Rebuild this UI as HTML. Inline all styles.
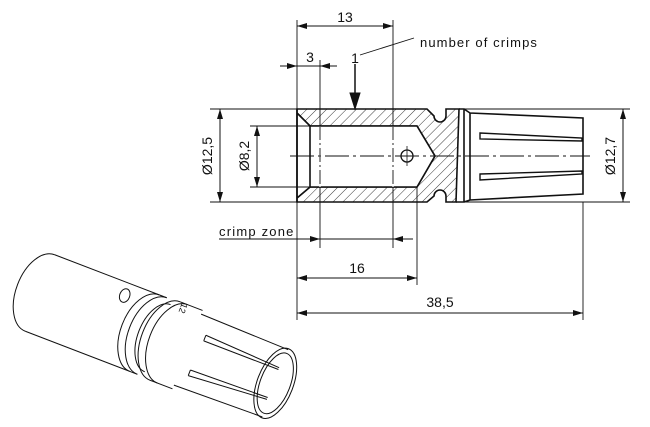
<!DOCTYPE html>
<html><head><meta charset="utf-8"><style>
html,body{margin:0;padding:0;background:#fff;}
svg{display:block;}
text{font-family:"Liberation Sans",sans-serif;fill:#111;}
</style></head><body>
<svg width="650" height="427" viewBox="0 0 650 427" xmlns="http://www.w3.org/2000/svg">
<defs>
<pattern id="h" width="7" height="7" patternUnits="userSpaceOnUse" patternTransform="rotate(45)">
<line x1="0" y1="0" x2="0" y2="7" stroke="#222" stroke-width="0.9"/>
</pattern>
<marker id="a" viewBox="0 0 10 6" refX="10" refY="3" markerWidth="10" markerHeight="6" orient="auto-start-reverse" markerUnits="userSpaceOnUse">
<path d="M0,0 L10,3 L0,6 Z" fill="#111"/>
</marker>
</defs>
<g stroke="#111" fill="none" stroke-width="1">
<path fill="url(#h)" fill-rule="evenodd" stroke-width="1.6" d="M297,109 L427,109 L434,116 A6,6 0 0 0 446,116 L446,109 L459,109 L456,202 L446,202 L446,196 A6,6 0 0 0 434,196 L427,202 L297,202 Z M297,113 L310,126 L417,126 L435,156 L417,187 L310,187 L297,198 Z"/>
<path fill="#fff" stroke="none" d="M298,114 L310,126 L417,126 L434,156 L417,187 L310,187 L298,197 Z"/>
<path stroke-width="1.6" d="M297,113 L310,126 L417,126 L435,156 L417,187 L310,187 L297,198 M310,126 L310,187 M297,109 L297,202"/>
<path stroke-width="1.6" d="M459,109 L464,109 L464,202 L456,202 M464,109 L470,113 L583,118 L583,194 L470,200 L464,202 M470,113 L470,200"/>
<path stroke-width="1.4" d="M480,133 L582,138 L582,141 L480,139 Z M480,174 L582,171 L582,174 L480,180 Z"/>
<circle cx="407" cy="156" r="6" stroke-width="1.3"/>
<path d="M290,156 L590,156" stroke-dasharray="24,4,3,4"/>
<path d="M407,146 L407,166" stroke-width="0.8"/>
<path d="M320,60 L320,248 M393,20 L393,248" stroke-width="0.9"/>
<path d="M320,126 L320,187 M393,126 L393,187" stroke="#fff" stroke-width="1.2"/>
<path d="M320,126 L320,187 M393,126 L393,187" stroke-dasharray="14,3,2,3" stroke-width="0.9"/>
<path d="M297,20 L297,320 M417,187 L417,285 M583,202 L583,320" stroke-width="0.9"/>
<path d="M210,109 L297,109 M210,202 L297,202 M250,126 L310,126 M250,187 L310,187 M465,109 L630,109 M465,202 L630,202" stroke-width="0.9"/>
<path d="M297,26 L393,26" marker-start="url(#a)" marker-end="url(#a)"/>
<path d="M280,66 L297,66" marker-end="url(#a)"/>
<path d="M337,66 L320,66" marker-end="url(#a)"/>
<path d="M297,66 L320,66"/>
<path d="M219,239 L320,239" marker-end="url(#a)"/>
<path d="M413,239 L393,239" marker-end="url(#a)"/>
<path d="M320,239 L393,239"/>
<path d="M297,278 L417,278" marker-start="url(#a)" marker-end="url(#a)"/>
<path d="M297,313 L583,313" marker-start="url(#a)" marker-end="url(#a)"/>
<path d="M220,109 L220,202" marker-start="url(#a)" marker-end="url(#a)"/>
<path d="M257,126 L257,187" marker-start="url(#a)" marker-end="url(#a)"/>
<path d="M623,109 L623,202" marker-start="url(#a)" marker-end="url(#a)"/>
<path d="M355,64 L355,94" stroke-width="1.5"/>
<path d="M350,93 L360,93 L355,109 Z" fill="#111"/>
<path d="M360,55 L414,38" stroke-width="0.9"/>
</g>
<g font-size="14">
<text x="345" y="22" text-anchor="middle">13</text>
<text x="310" y="62" text-anchor="middle">3</text>
<text x="355" y="63" text-anchor="middle">1</text>
<text x="420" y="47" font-family="Liberation Mono, monospace" font-size="13" letter-spacing="1.1">number of crimps</text>
<text x="219" y="236" font-family="Liberation Mono, monospace" font-size="13" letter-spacing="1.2">crimp zone</text>
<text x="357" y="273" text-anchor="middle">16</text>
<text x="440" y="307" text-anchor="middle">38,5</text>
<text transform="translate(212,156) rotate(-90)" text-anchor="middle">Ø12,5</text>
<text transform="translate(249,156) rotate(-90)" text-anchor="middle">Ø8,2</text>
<text transform="translate(615,156) rotate(-90)" text-anchor="middle">Ø12,7</text>
</g>
<g transform="translate(40,293) rotate(21)" stroke="#111" fill="none" stroke-width="1">
<path d="M0,-41 A24,41 0 0 0 0,41"/>
<path d="M0,-41 L112,-41 M0,41 L112,41"/>
<ellipse cx="80" cy="-28" rx="5" ry="7"/>
<path d="M112,-41 A24,41 0 0 0 112,41"/>
<path d="M112,-41 L120,-41 M112,41 L120,41"/>
<path d="M120,-41 A24,41 0 0 0 120,41"/>
<path d="M126,-36 A20,36 0 0 0 126,36"/>
<path d="M134,-42 L158,-42 M134,42 L158,42"/>
<path d="M134,-42 A24,42 0 0 0 134,42"/>
<path d="M142,-42 A24,42 0 0 0 142,42"/>
<path d="M158,-38 L252,-36 M158,38 L252,36"/>
<ellipse cx="252" cy="0" rx="18" ry="37"/>
<ellipse cx="252" cy="0" rx="15" ry="32"/>
<path d="M170,-20 L250,-16 M170,-14 L250,-14 M170,-20 L170,-14"/>
<path d="M168,18 L250,16 M168,24 L250,18 M168,18 L168,24"/>
<text x="134" y="-34" font-size="9" transform="rotate(90,139,-37)" stroke="none">12</text>
</g>
</svg>
</body></html>
